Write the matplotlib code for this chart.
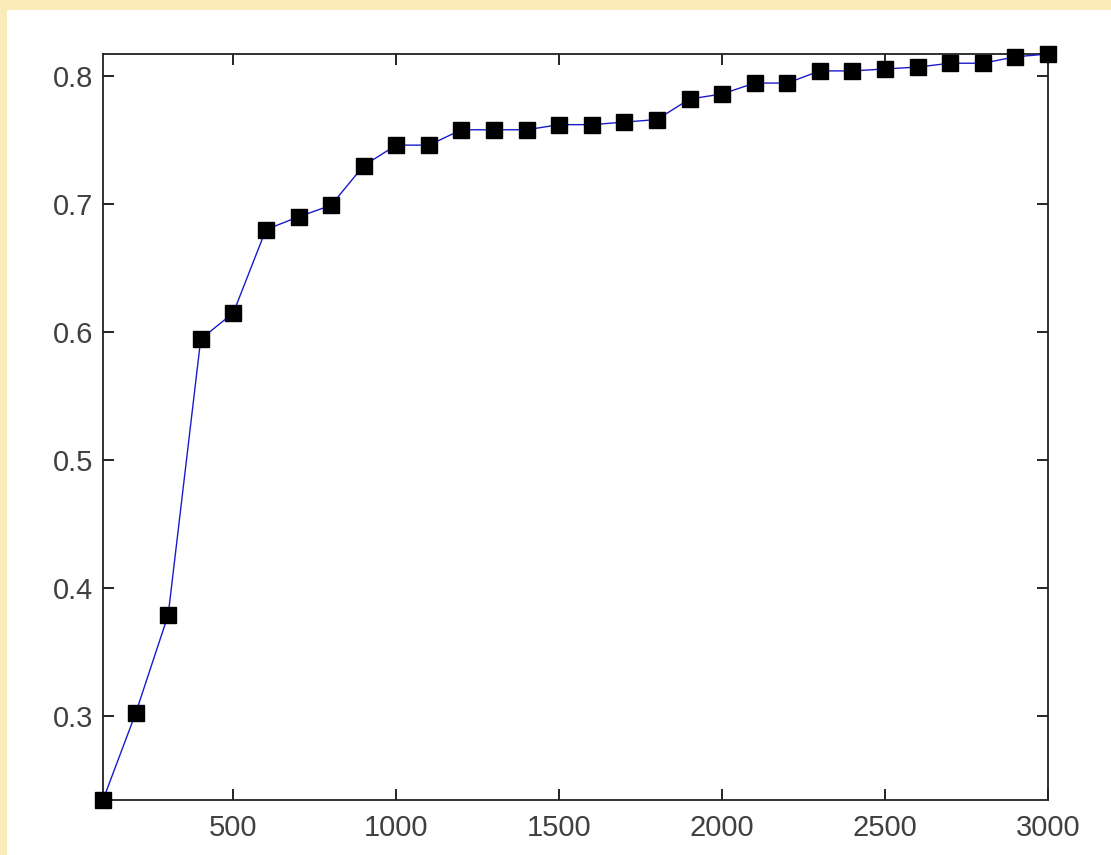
import matplotlib
matplotlib.use("Agg")
import matplotlib.pyplot as plt
from matplotlib.patches import Rectangle

x_vals = list(range(100, 3001, 100))
y_vals = [0.2344, 0.302, 0.379, 0.5945, 0.615, 0.680, 0.690, 0.699, 0.730, 0.746,
          0.746, 0.758, 0.758, 0.758, 0.762, 0.762, 0.764, 0.766, 0.782, 0.786,
          0.7945, 0.7945, 0.804, 0.804, 0.8055, 0.807, 0.810, 0.810, 0.815, 0.8172]
x_ticks = [500, 1000, 1500, 2000, 2500, 3000]
y_ticks = [0.3, 0.4, 0.5, 0.6, 0.7, 0.8]

plt.rcParams['font.family'] = ['Liberation Sans', 'DejaVu Sans']

fig = plt.figure(figsize=(11.11, 8.55), dpi=100)
fig.patch.set_facecolor('#FAEBB8')
fig.add_artist(Rectangle((7/1111, 0), 1, (855-10)/855, transform=fig.transFigure,
                         facecolor='white', edgecolor='none', zorder=0))

ax = fig.add_axes([103/1111, 55/855, (1048-103)/1111, (800-54)/855])
ax.plot(x_vals, y_vals, color='#1a1acc', linewidth=1.0, marker='s', markersize=11,
        markerfacecolor='black', markeredgecolor='black', clip_on=False, zorder=3)
ax.set_xlim(100, 3000)
ax.set_ylim(0.2344, 0.8172)
ax.set_xticks(x_ticks)
ax.set_yticks(y_ticks)
ax.set_yticklabels([f"{v:.1f}" for v in y_ticks])
ax.tick_params(direction='in', length=8, width=1.2, labelsize=21, labelcolor='#404040',
               top=True, right=True)
ax.tick_params(axis='x', pad=10)
ax.tick_params(axis='y', pad=7)
for s in ax.spines.values():
    s.set_linewidth(1.3)
    s.set_color('#222222')

fig.savefig('out.png', dpi=100, facecolor=fig.get_facecolor())
